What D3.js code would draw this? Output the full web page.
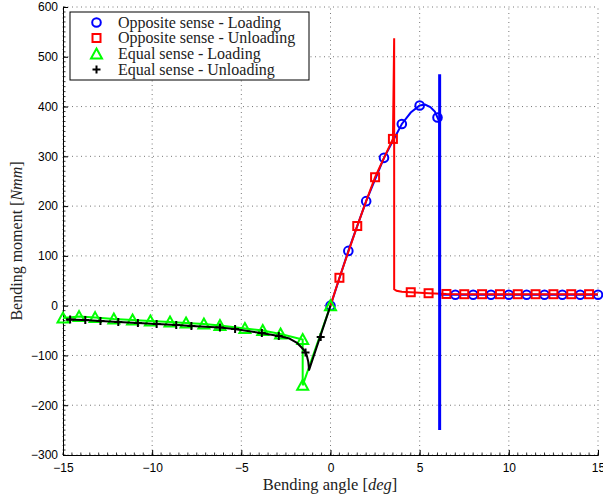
<!DOCTYPE html>
<html><head><meta charset="utf-8">
<script src="https://cdn.jsdelivr.net/npm/d3@7"></script>
<style>body{margin:0;background:#fff}svg{display:block}</style>
</head><body>
<script>
// ---- data ----
const xTicks = [-15, -10, -5, 0, 5, 10, 15];
const yTicks = [-300, -200, -100, 0, 100, 200, 300, 400, 500, 600];

const seriesNames = ["Opposite sense - Loading", "Opposite sense - Unloading", "Equal sense - Loading", "Equal sense - Unloading"];

const blueLineX = [0, 1, 2, 3, 4, 4.5, 5, 5.3, 5.6, 5.85, 6, 6.1, 6.12, 15];
const blueLineY = [0, 110, 210, 297, 365, 388, 402, 404, 399, 390, 378, 370, 22, 22];
const blueMarkX = [0, 1, 2, 3, 4, 5, 6, 7, 8, 9, 10, 11, 12, 13, 14, 15];
const blueMarkY = [0, 110, 210, 297, 365, 402, 378, 22, 22, 22, 22, 22, 22, 22, 22, 22];
const blueDropX = [6.12, 6.12];
const blueDropY = [465, -250];

const redLineX = [0, 0.5, 1, 1.5, 2, 2.5, 3, 3.5, 3.57, 3.57, 3.7, 4, 4.5, 5.5, 6.5, 7.5, 15];
const redLineY = [0, 56, 108, 160, 210, 258, 297, 335, 537, 33, 30, 28, 27, 25, 23.5, 23, 23];
const redMarkX = [0.5, 1.5, 2.5, 3.5, 4.5, 5.5, 6.5, 7.5, 8.5, 9.5, 10.5, 11.5, 12.5, 13.5, 14.5];
const redMarkY = [56, 160, 258, 335, 27, 25, 23.5, 23, 23, 23, 23, 23, 23, 23, 23];

const greenX = [-15, -14.1, -13.2, -12.15, -11.1, -10.1, -9, -8.1, -7.1, -6.2, -4.8, -3.8, -2.8, -1.56, -1.56, 0];
const greenY = [-25, -22, -24, -27, -29, -31, -33, -35, -37, -40, -46, -50, -57, -68, -160, 0];

const blackLineX = [-14.8, -13.8, -12.9, -11.9, -10.8, -9.75, -8.6, -7.8, -6.2, -5.4, -3.9, -2.9, -2.3, -1.9, -1.62, -1.45, -1.33, -1.25, -1.2, 0];
const blackLineY = [-28, -29, -31, -33, -35, -37, -39, -41, -44, -47, -55, -61, -66, -74, -84, -91, -100, -112, -129, 0];
const blackMarkX = [-14.6, -13.75, -12.9, -11.9, -10.8, -9.75, -8.65, -7.8, -6.2, -5.35, -3.85, -2.9, -1.4, -0.55];
const blackMarkY = [-28, -29, -31, -33, -35, -37, -39, -41, -44, -47, -55, -61, -94, -63];

// ---- layout ----
const W = 603, H = 500;
const svg = d3.select("body").append("svg").attr("width", W).attr("height", H);
const x = d3.scaleLinear().domain([-15, 15]).range([63, 598]);
const y = d3.scaleLinear().domain([-300, 600]).range([455, 7]);
const [x0, x1] = x.range(), [y0, y1] = y.range();

const zip = (a, b) => a.map((v, i) => [v, b[i]]);
const line = d3.line().x(d => x(d[0])).y(d => y(d[1]));

// grid
const grid = svg.append("g").attr("stroke", "#555").attr("stroke-width", 0.8).attr("stroke-dasharray", "1,3.5");
grid.selectAll(".gx").data(xTicks).join("line")
  .attr("x1", d => x(d)).attr("x2", d => x(d)).attr("y1", y0).attr("y2", y1);
grid.selectAll(".gy").data(yTicks).join("line")
  .attr("y1", d => y(d)).attr("y2", d => y(d)).attr("x1", x0).attr("x2", x1);

// axes
const fmt = d => d < 0 ? "\u2212" + Math.abs(d) : String(d);
const axX = svg.append("g").attr("transform", `translate(0,${y0})`)
  .call(d3.axisBottom(x).tickValues(xTicks).tickSize(-5).tickPadding(8).tickFormat(fmt));
const axY = svg.append("g").attr("transform", `translate(${x0},0)`)
  .call(d3.axisLeft(y).tickValues(yTicks).tickSize(-5).tickPadding(5).tickFormat(fmt));
[axX, axY].forEach(a => {
  a.select(".domain").attr("stroke", "#000").attr("stroke-width", 1);
  a.selectAll(".tick line").attr("stroke", "#000");
  a.selectAll("text").attr("font-family", "Liberation Sans, Arial, sans-serif").attr("font-size", 12).attr("fill", "#000");
});
// minor ticks
const xMinor = d3.range(-15, 15.001, 0.5);
svg.append("g").selectAll("line").data(xMinor).join("line")
  .attr("x1", d => x(d)).attr("x2", d => x(d)).attr("y1", y0).attr("y2", y0 - 2.5)
  .attr("stroke", "#000").attr("stroke-width", 0.8);
const yMinor = d3.range(-300, 600.001, 10);
svg.append("g").selectAll("line").data(yMinor).join("line")
  .attr("y1", d => y(d)).attr("y2", d => y(d)).attr("x1", x0).attr("x2", x0 + 2.5)
  .attr("stroke", "#000").attr("stroke-width", 0.8);

// marker drawers
function circles(g, pts, color) {
  g.selectAll(null).data(pts).join("circle")
    .attr("cx", d => x(d[0])).attr("cy", d => y(d[1])).attr("r", 4.3)
    .attr("fill", "none").attr("stroke", color).attr("stroke-width", 2);
}
function squares(g, pts, color) {
  g.selectAll(null).data(pts).join("rect")
    .attr("x", d => x(d[0]) - 4).attr("y", d => y(d[1]) - 4).attr("width", 8).attr("height", 8)
    .attr("fill", "none").attr("stroke", color).attr("stroke-width", 2);
}
function triangles(g, pts, color) {
  g.selectAll(null).data(pts).join("path")
    .attr("d", d => { const cx = x(d[0]), cy = y(d[1]); return `M${cx},${cy - 5.5}L${cx + 5.5},${cy + 4.5}L${cx - 5.5},${cy + 4.5}Z`; })
    .attr("fill", "none").attr("stroke", color).attr("stroke-width", 2).attr("stroke-linejoin", "miter");
}
function pluses(g, pts, color) {
  g.selectAll(null).data(pts).join("path")
    .attr("d", d => { const cx = x(d[0]), cy = y(d[1]); return `M${cx - 4},${cy}H${cx + 4}M${cx},${cy - 4}V${cy + 4}`; })
    .attr("stroke", color).attr("stroke-width", 2);
}

const plot = svg.append("g");
// blue
plot.append("path").attr("d", line(zip(blueLineX, blueLineY))).attr("fill", "none").attr("stroke", "#0000ff").attr("stroke-width", 2);
circles(plot.append("g"), zip(blueMarkX, blueMarkY), "#0000ff");
// red
plot.append("path").attr("d", line(zip(redLineX, redLineY))).attr("fill", "none").attr("stroke", "#ff0000").attr("stroke-width", 2);
squares(plot.append("g"), zip(redMarkX, redMarkY), "#ff0000");
// green
plot.append("path").attr("d", line(zip(greenX, greenY))).attr("fill", "none").attr("stroke", "#00ff00").attr("stroke-width", 2);
triangles(plot.append("g"), zip(greenX, greenY), "#00ff00");
// black
plot.append("path").attr("d", line(zip(blackLineX, blackLineY))).attr("fill", "none").attr("stroke", "#000").attr("stroke-width", 2).attr("stroke-linejoin", "round");
pluses(plot.append("g"), zip(blackMarkX, blackMarkY), "#000");
// blue vertical drop on top
plot.append("path").attr("d", line(zip(blueDropX, blueDropY))).attr("fill", "none").attr("stroke", "#0000ff").attr("stroke-width", 3);

// axis titles
const serif = "Liberation Serif, Times New Roman, serif";
const xt = svg.append("text").attr("x", 330).attr("y", 490).attr("text-anchor", "middle")
  .attr("font-family", serif).attr("font-size", 16.5).attr("fill", "#222");
xt.append("tspan").text("Bending angle [");
xt.append("tspan").attr("font-style", "italic").text("deg");
xt.append("tspan").text("]");
const yt = svg.append("text").attr("transform", `translate(22,${(y0 + y1) / 2 + 10}) rotate(-90)`).attr("text-anchor", "middle")
  .attr("font-family", serif).attr("font-size", 16).attr("fill", "#222");
yt.append("tspan").text("Bending moment [");
yt.append("tspan").attr("font-style", "italic").text("Nmm");
yt.append("tspan").text("]");

// legend
const lg = svg.append("g");
lg.append("rect").attr("x", 70).attr("y", 12).attr("width", 239).attr("height", 68)
  .attr("fill", "#fff").attr("stroke", "#000").attr("stroke-width", 1);
const rowY = [22.5, 38, 54, 69.5];
const mx = 96.5;
const lx = x.invert(mx);
const drawers = [circles, squares, triangles, pluses];
const colors = ["#0000ff", "#ff0000", "#00ff00", "#000"];
seriesNames.forEach((name, i) => {
  drawers[i](lg.append("g"), [[lx, y.invert(rowY[i])]], colors[i]);
  lg.append("text").attr("x", 118).attr("y", rowY[i] + 5).attr("font-family", serif)
    .attr("font-size", 16).attr("fill", "#222").text(name);
});
</script>
</body></html>
